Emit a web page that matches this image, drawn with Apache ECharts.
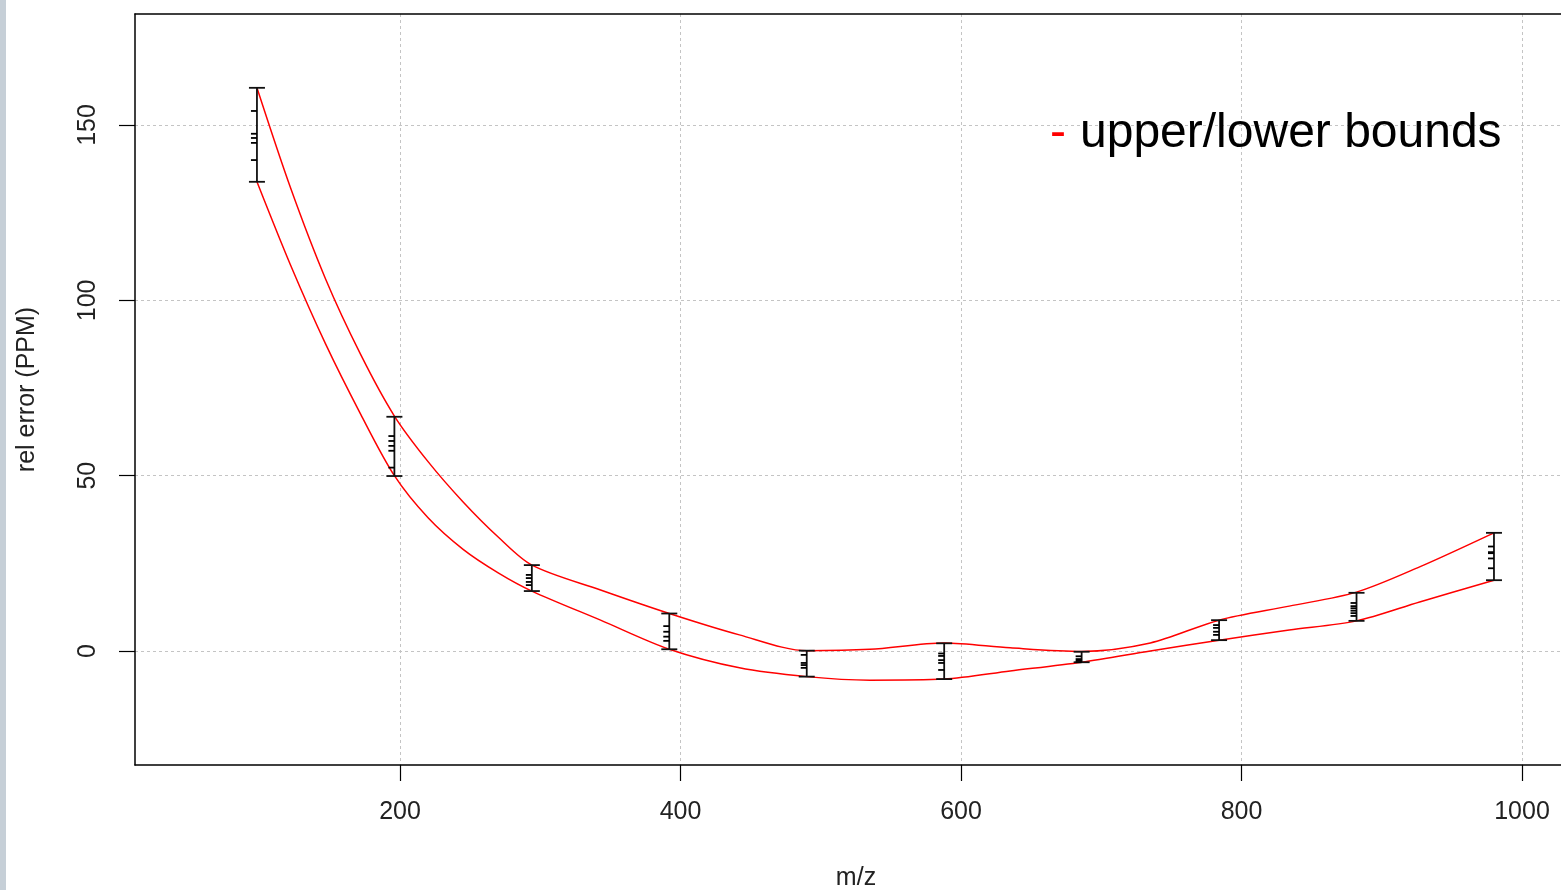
<!DOCTYPE html>
<html>
<head>
<meta charset="utf-8">
<script src="https://cdn.jsdelivr.net/npm/echarts@6/dist/echarts.min.js"></script>
<style>
html,body{margin:0;padding:0;background:#fff;}
#chart{width:1561px;height:890px;}
</style>
</head>
<body>
<div id="chart"></div>
<script>
// ---- data ----
var xTicks = [200, 400, 600, 800, 1000];
var yTicks = [0, 50, 100, 150];

var barX    = [98, 196, 294, 392, 490, 588, 686, 784, 882, 980];
var barLow  = [133.8, 49.9, 17.1, 0.5, -7.3, -8.0, -3.2, 3.1, 8.6, 20.2];
var barHigh = [160.6, 66.8, 24.5, 10.7, 0.1, 2.2, -0.2, 8.8, 16.6, 33.7];
var barPoints = [
  [154, 147.5, 146.3, 144.9, 140],
  [61.3, 59.9, 58.5, 57.1, 52.3],
  [21.7, 20.8, 19.7, 18.8],
  [7.1, 5.5, 4.1, 2.9],
  [-1.1, -3.4, -4.0, -4.8],
  [-0.7, -1.4, -2.6, -3.4, -5.4],
  [-1.5, -2.3, -2.8, -3.2],
  [7.4, 6.6, 5.5, 4.6],
  [13.7, 12.8, 12.2, 11.5, 10.8, 10.0],
  [29.8, 28.2, 27.9, 26.4, 23.6]
];

var curveX = [98, 122, 147, 172, 196, 220, 245, 270, 294, 343, 392, 442, 490, 535, 588, 635, 686, 735, 784, 834, 882, 927, 980];
var upperY = [160.6, 132, 106, 84.5, 67, 54, 42.5, 32.5, 24.5, 17.4, 10.7, 4.6, 0.1, 0.5, 2.3, 0.9, -0.1, 2.3, 8.8, 12.8, 16.8, 24, 33.7];
var lowerY = [133.8, 110, 87.5, 67.5, 50, 38, 29, 22.3, 17.1, 8.8, 0.5, -4.8, -7.3, -8.3, -8.0, -5.7, -3.2, 0, 3.1, 6.0, 8.6, 14.0, 20.2];

// ---- build ----
var barData = barX.map(function (x, i) { return [x, barLow[i], barHigh[i]]; });
var pointData = [];
barX.forEach(function (x, i) { barPoints[i].forEach(function (v) { pointData.push([x, v]); }); });
var upperData = curveX.map(function (x, i) { return [x, upperY[i]]; });
var lowerData = curveX.map(function (x, i) { return [x, lowerY[i]]; });

var FONT = '"Liberation Sans", Arial, sans-serif';
var XMIN = 11.05, XMAX = 1039.2;
var chart = echarts.init(document.getElementById('chart'), null, {renderer: 'canvas'});

var axisStroke = {color: '#000', width: 1.5};

chart.setOption({
  animation: false,
  backgroundColor: '#ffffff',
  grid: {left: 135, top: 14, right: -16, bottom: 125, show: false, containLabel: false, outerBoundsMode: 'none'},
  xAxis: [{
    type: 'value', min: XMIN, max: XMAX, position: 'bottom',
    name: 'm/z', nameLocation: 'middle', nameGap: 101,
    nameTextStyle: {fontFamily: FONT, fontSize: 25, color: '#222'},
    axisLine: {show: true, onZero: false, lineStyle: axisStroke},
    axisTick: {show: true, length: 16, customValues: xTicks, lineStyle: {color: '#000', width: 1.2}},
    axisLabel: {customValues: xTicks, margin: 35, fontFamily: FONT, fontSize: 25, color: '#222',
      formatter: function (v) { return String(v); }},
    splitLine: {show: true, lineStyle: {color: '#c4c4c4', type: [3, 3], width: 1}}
  }, {
    type: 'value', min: XMIN, max: XMAX, position: 'top',
    axisLine: {show: true, onZero: false, lineStyle: axisStroke},
    axisTick: {show: false}, axisLabel: {show: false}, splitLine: {show: false}
  }],
  yAxis: {
    type: 'value', min: -32.5, max: 181.65,
    name: 'rel error (PPM)', nameLocation: 'middle', nameGap: 95,
    nameTextStyle: {fontFamily: FONT, fontSize: 25, color: '#222'},
    axisLine: {show: true, onZero: false, lineStyle: axisStroke},
    axisTick: {show: true, length: 16, customValues: yTicks, lineStyle: {color: '#000', width: 1.2}},
    axisLabel: {customValues: yTicks, rotate: 90, margin: 34, fontFamily: FONT, fontSize: 25, color: '#222'},
    splitLine: {show: true, lineStyle: {color: '#c4c4c4', type: [3, 3], width: 1}}
  },
  graphic: [
    {type: 'rect', left: 0, top: 0, shape: {width: 6, height: 890}, style: {fill: '#c6cfd7'}, z: 100},
    {type: 'text', x: 1050, y: 134, style: {text: '-', fill: '#ff0000', font: '48px "Liberation Sans", Arial, sans-serif', verticalAlign: 'middle'}, z: 100},
    {type: 'text', x: 1080, y: 134, style: {text: 'upper/lower bounds', fill: '#000', font: '48px "Liberation Sans", Arial, sans-serif', verticalAlign: 'middle'}, z: 100}
  ],
  series: [
    {
      type: 'line', data: upperData, smooth: 0.3, symbol: 'none',
      lineStyle: {color: '#ff0000', width: 1.5}, z: 3
    },
    {
      type: 'line', data: lowerData, smooth: 0.3, symbol: 'none',
      lineStyle: {color: '#ff0000', width: 1.5}, z: 3
    },
    {
      type: 'custom', data: barData, z: 4,
      renderItem: function (params, api) {
        var x = api.value(0);
        var lo = api.coord([x, api.value(1)]);
        var hi = api.coord([x, api.value(2)]);
        var cw = 8;
        var st = {stroke: '#111', lineWidth: 1.8};
        return {
          type: 'group',
          children: [
            {type: 'line', shape: {x1: lo[0], y1: lo[1], x2: hi[0], y2: hi[1]}, style: st},
            {type: 'line', shape: {x1: lo[0] - cw, y1: lo[1], x2: lo[0] + cw, y2: lo[1]}, style: st},
            {type: 'line', shape: {x1: hi[0] - cw, y1: hi[1], x2: hi[0] + cw, y2: hi[1]}, style: st}
          ]
        };
      }
    },
    {
      type: 'custom', data: pointData, z: 4,
      renderItem: function (params, api) {
        var p = api.coord([api.value(0), api.value(1)]);
        return {type: 'line', shape: {x1: p[0] - 6, y1: p[1], x2: p[0], y2: p[1]}, style: {stroke: '#000', lineWidth: 1.8}};
      }
    }
  ]
});
</script>
</body>
</html>
